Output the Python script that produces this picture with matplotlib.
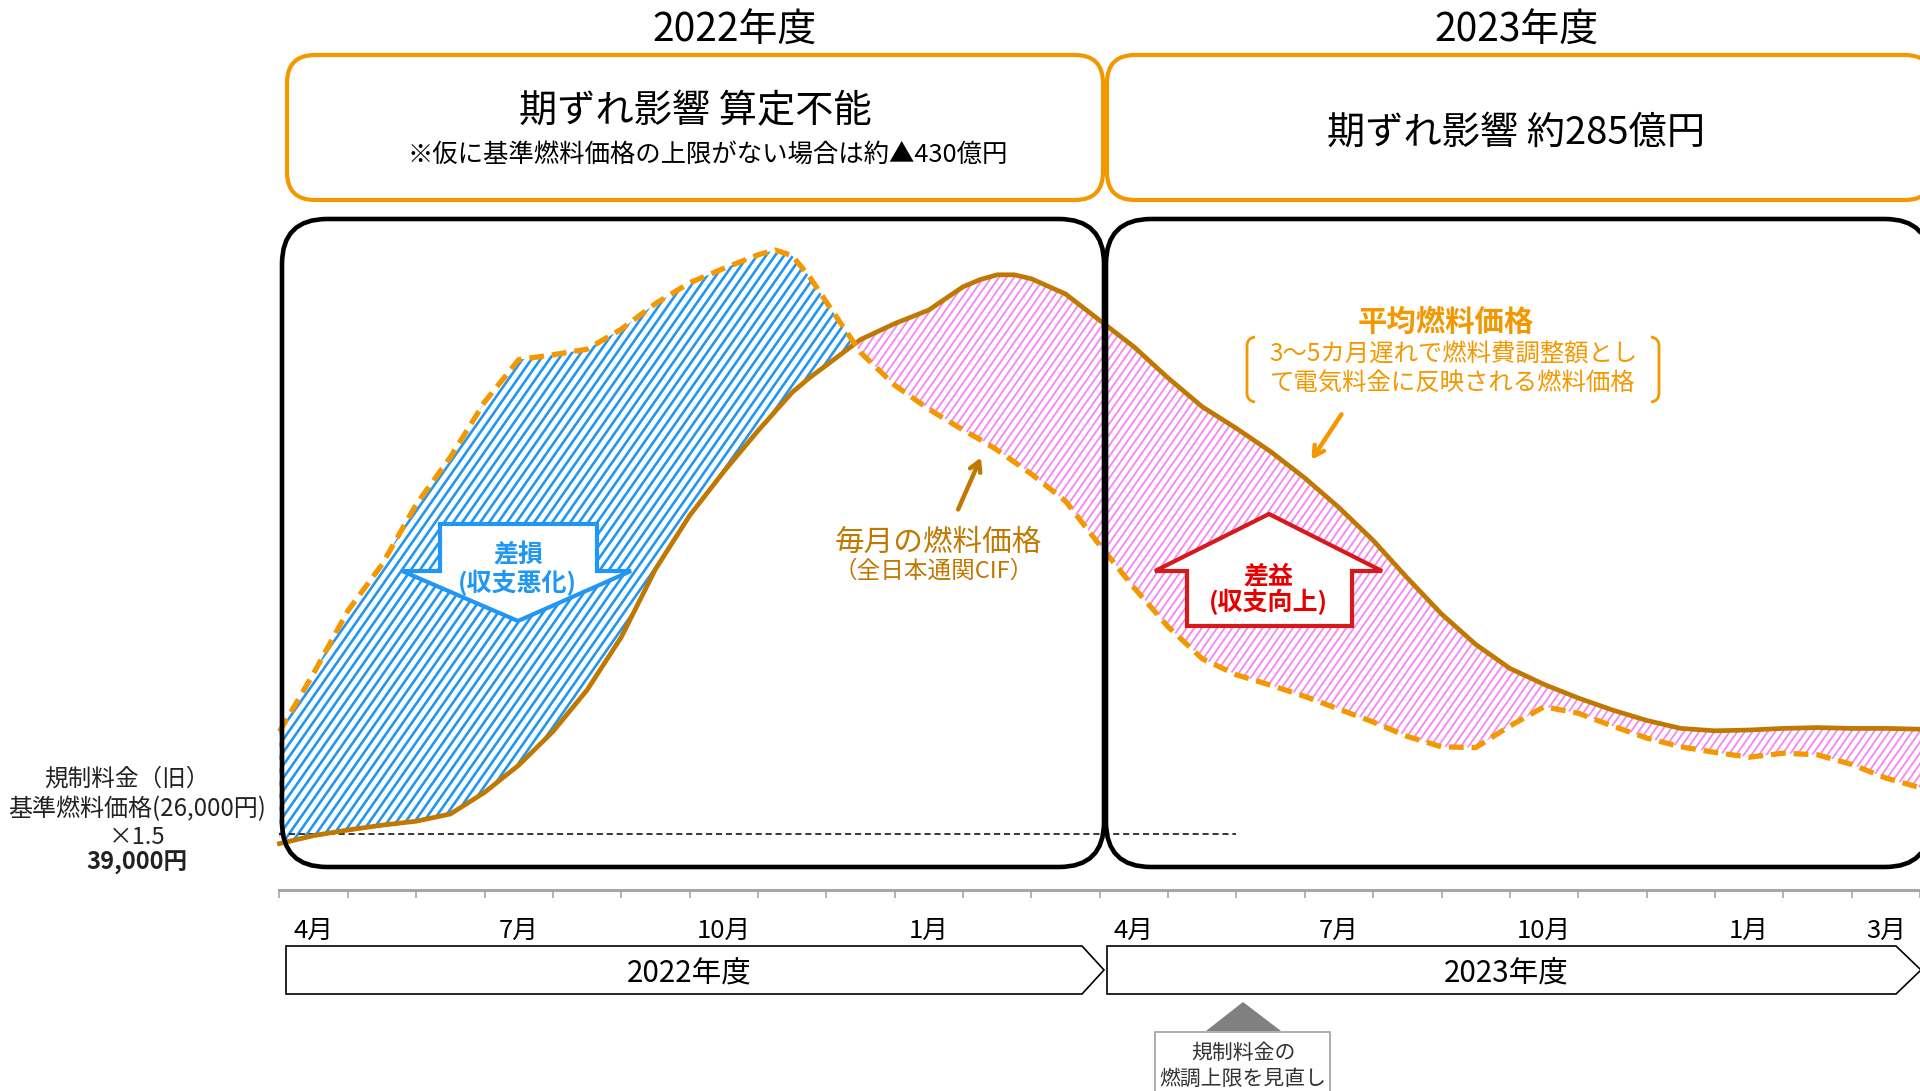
import numpy as np
import matplotlib
matplotlib.use('Agg')
import matplotlib.pyplot as plt
from matplotlib.patches import FancyBboxPatch, Polygon, Rectangle, PathPatch
from matplotlib.path import Path
from matplotlib.collections import LineCollection
from matplotlib.transforms import IdentityTransform

plt.rcParams['font.family'] = ['Noto Sans CJK JP', 'DejaVu Sans']

# months since the start of FY2022 (0 = beginning of April 2022)
months = [0, 0.5, 1, 1.5, 2, 2.5, 3, 3.5, 4, 4.5, 5, 5.5, 6, 6.5, 7, 7.25, 7.5,
          7.75, 8, 8.5, 9, 9.5, 10, 10.25, 10.5, 10.75, 11, 11.5, 12, 12.5, 13,
          13.5, 14, 14.5, 15, 15.5, 16, 16.5, 17, 17.5, 18, 18.5, 19, 19.5, 20,
          20.5, 21, 21.5, 22, 22.5, 23, 23.5, 24]
# 毎月の燃料価格 (全日本通関CIF), thousand yen
monthly_price = [51.8, 59.1, 66.9, 72.7, 80.2, 86.1, 93.0, 98.3, 98.9, 99.6,
                 102.1, 105.3, 107.9, 109.7, 111.4, 112.0, 111.3, 108.7, 105.5,
                 99.2, 95.1, 92.1, 89.5, 88.3, 87.0, 85.5, 84.0, 80.6, 75.1,
                 69.8, 64.9, 60.9, 58.9, 57.6, 56.2, 54.6, 53.0, 51.2, 49.9,
                 49.8, 52.5, 54.9, 54.1, 52.5, 51.0, 49.9, 49.2, 48.6, 49.1,
                 48.9, 47.7, 46.0, 44.8]
# 平均燃料価格 (3~5カ月遅れ), thousand yen
average_price = [37.8, 38.8, 39.5, 40.1, 40.6, 41.5, 44.2, 47.6, 51.8, 57.0,
                 63.6, 72.1, 78.8, 84.3, 89.4, 91.8, 94.2, 96.0, 97.6, 100.8,
                 102.8, 104.5, 107.4, 108.3, 108.9, 108.9, 108.4, 106.5, 103.2,
                 99.9, 96.0, 92.4, 89.7, 86.8, 83.5, 79.8, 75.7, 71.0, 66.5,
                 62.7, 59.7, 57.7, 56.0, 54.5, 53.2, 52.2, 51.9, 52.0, 52.2,
                 52.3, 52.2, 52.2, 52.1]
base_price = 39          # 39,000円
cap_revision_month = 14  # 燃調上限の見直し
month_ticks = list(range(25))
month_label_pos = [0.5, 3.5, 6.5, 9.5, 12.5, 15.5, 18.5, 21.5, 23.5]
month_labels = ['4月', '7月', '10月', '1月', '4月', '7月', '10月', '1月', '3月']
fiscal_years = ['2022年度', '2023年度']

BROWN = '#C07800'
ORANGE = '#F39800'
BLUE = '#2196F3'
PINK = '#F58CF5'
RED = '#D7191C'

W, H = 1920, 1091
fig = plt.figure(figsize=(W / 100, H / 100), dpi=100)

# pixel layout of the data area
x0_px, px_month = 280.5, 68.6
base_px, px_unit = 834, 8.0

ax = fig.add_axes([0, 0, 1, 1])
ax.set_xlim(-x0_px / px_month, (W - x0_px) / px_month)
ax.set_ylim(base_price - (H - base_px) / px_unit, base_price + base_px / px_unit)
ax.patch.set_alpha(0)
for side in ['left', 'right', 'top']:
    ax.spines[side].set_visible(False)
ax.spines['bottom'].set_position(('data', base_price - (890 - base_px) / px_unit))
ax.spines['bottom'].set_bounds(0, 24)
ax.spines['bottom'].set_color('#A6A6A6')
ax.spines['bottom'].set_linewidth(2.2)
ax.set_yticks([])
ax.set_xticks(month_ticks)
ax.set_xticklabels([])
ax.set_xticks(month_label_pos, minor=True)
ax.set_xticklabels(month_labels, minor=True)
ax.tick_params(axis='x', which='major', length=6, width=1.2, color='#A6A6A6')
ax.tick_params(axis='x', which='minor', length=0, pad=20, labelsize=18.5)

m = np.array(months)
mp = np.array(monthly_price)
ap = np.array(average_price)


def stripes(region, color, period, lw, angle=55):
    # diagonal stripes clipped to a fill_between region
    region.set_facecolor('none')
    region.set_edgecolor('none')
    clip = Path.make_compound_path(*region.get_paths())
    run = H / np.tan(np.radians(angle))
    segs = [[(x, 0), (x + run, H)] for x in np.arange(-run, W + period, period)]
    lc = LineCollection(segs, colors=color, linewidths=lw, transform=IdentityTransform(),
                        zorder=1)
    ax.add_collection(lc, autolim=False)
    lc.set_clip_path(clip, ax.transData)


loss = ax.fill_between(m, mp, ap, where=mp >= ap, interpolate=True)
gain = ax.fill_between(m, mp, ap, where=mp <= ap, interpolate=True)
stripes(loss, BLUE, 9.0, 1.9)
stripes(gain, PINK, 7.6, 1.4)

ax.plot(m, ap, color=BROWN, lw=3.4, solid_joinstyle='round', zorder=3)
ax.plot(m, mp, color=ORANGE, lw=3.8, dashes=(2.8, 1.5), dash_capstyle='butt',
        zorder=3)
ax.hlines(base_price, 0, cap_revision_month, color='black', lw=1.1,
          linestyles=(0, (4, 2.5)), zorder=2)

# decorations in pixel coordinates
dx = fig.add_axes([0, 0, 1, 1])
dx.set_xlim(0, W)
dx.set_ylim(H, 0)
dx.axis('off')
dx.patch.set_alpha(0)


def rounded_box(x, y, w, h, r, color, lw):
    # flatten the rounded corners so clipping at the canvas edge stays clean
    shape = FancyBboxPatch((x, y), w, h, boxstyle=f'round,pad=0,rounding_size={r}')
    poly = shape.get_path().to_polygons()[0]
    dx.add_patch(Polygon(poly, closed=True, fc='none', ec=color, lw=lw, zorder=5))


# black period frames
rounded_box(282, 219, 822, 648, 45, 'black', 3.3)
rounded_box(1106, 219, 824, 648, 45, 'black', 3.3)
# orange result boxes
rounded_box(287, 55, 816, 145, 28, ORANGE, 3)
rounded_box(1107, 55, 826, 145, 28, ORANGE, 3)

dx.text(735, 31, fiscal_years[0], fontsize=28, ha='center', va='center')
dx.text(1516, 31, fiscal_years[1], fontsize=28, ha='center', va='center')
dx.text(695, 112, '期ずれ影響 算定不能', fontsize=27.5, ha='center', va='center')
dx.text(708, 155, '※仮に基準燃料価格の上限がない場合は約▲430億円', fontsize=18.3,
        ha='center', va='center')
dx.text(1516, 133, '期ずれ影響 約285億円', fontsize=27.5, ha='center', va='center')

# left label for base price
dx.text(127, 779, '規制料金（旧）', fontsize=17, ha='center', va='center', color='#222222')
dx.text(137, 809, '基準燃料価格(26,000円)', fontsize=17.3, ha='center', va='center', color='#222222')
dx.text(137, 837, '×1.5', fontsize=17, ha='center', va='center', color='#222222')
dx.text(137, 863, '39,000円', fontsize=17, ha='center', va='center',
        fontweight='bold', color='#222222')

# fiscal year pentagons
for (xl, xc, xt), label, tx in [((286, 1082, 1104), fiscal_years[0], 689),
                                ((1107, 1896, 1921), fiscal_years[1], 1506)]:
    dx.add_patch(Polygon([(xl, 946), (xc, 946), (xt, 970), (xc, 994), (xl, 994)],
                         closed=True, fc='white', ec='black', lw=1.2, zorder=5))
    dx.text(tx, 974, label, fontsize=21.3, ha='center', va='center', zorder=6)

# cap revision callout
dx.add_patch(Polygon([(1243, 1002), (1206, 1031), (1281, 1031)], closed=True,
                     fc='#808080', ec='none', zorder=5))
dx.add_patch(Rectangle((1155, 1032), 175, 70, fc='white', ec='#A0A0A0', lw=1.2, zorder=5))
dx.text(1243, 1053, '規制料金の', fontsize=15, ha='center', va='center', color='#333333', zorder=6)
dx.text(1243, 1079, '燃調上限を見直し', fontsize=15, ha='center', va='center', color='#333333', zorder=6)

# loss arrow (down)
dx.add_patch(Polygon([(440, 524), (597, 524), (597, 571), (631, 571), (518, 621),
                      (402, 571), (440, 571)], closed=True, fc='white', ec=BLUE,
                     lw=3, joinstyle='miter', zorder=6))
dx.text(518, 555, '差損', fontsize=18, fontweight='bold', color=BLUE, ha='center',
        va='center', zorder=7)
dx.text(517, 583, '(収支悪化)', fontsize=18, fontweight='bold', color=BLUE,
        ha='center', va='center', zorder=7)

# gain arrow (up)
dx.add_patch(Polygon([(1269, 514), (1382, 571), (1352, 571), (1352, 626), (1187, 626),
                      (1187, 571), (1155, 571)], closed=True, fc='white', ec=RED,
                     lw=3, joinstyle='miter', zorder=6))
dx.text(1268, 576, '差益', fontsize=18, fontweight='bold', color='#E60000',
        ha='center', va='center', zorder=7)
dx.text(1268, 602, '(収支向上)', fontsize=18, fontweight='bold', color='#E60000',
        ha='center', va='center', zorder=7)

# monthly price annotation
dx.text(938, 542, '毎月の燃料価格', fontsize=21.3, color=BROWN, ha='center', va='center')
dx.text(934, 571, '（全日本通関CIF）', fontsize=17, color=BROWN, ha='center', va='center')
dx.annotate('', xy=(982, 455), xytext=(957, 512),
            arrowprops=dict(arrowstyle='->,head_length=0.7,head_width=0.4',
                            color=BROWN, lw=3.2))

# average price annotation
dx.text(1446, 322, '平均燃料価格', fontsize=21.2, fontweight='bold', color=ORANGE,
        ha='center', va='center')
dx.text(1453, 355, '3～5カ月遅れで燃料費調整額とし', fontsize=17.6, color=ORANGE,
        ha='center', va='center')
dx.text(1453, 383, 'て電気料金に反映される燃料価格', fontsize=17.6, color=ORANGE,
        ha='center', va='center')
for xv, xe in [(1247, 1255), (1659, 1651)]:
    br = Path([(xe, 337), (xv, 338), (xv, 346), (xv, 393), (xv, 401), (xe, 402)],
              [Path.MOVETO, Path.CURVE3, Path.CURVE3, Path.LINETO, Path.CURVE3, Path.CURVE3])
    dx.add_patch(PathPatch(br, fc='none', ec=ORANGE, lw=2))
dx.annotate('', xy=(1310, 462), xytext=(1343, 412),
            arrowprops=dict(arrowstyle='->,head_length=0.7,head_width=0.4',
                            color=ORANGE, lw=3.2))

fig.savefig('out.png', dpi=100, facecolor='white')
